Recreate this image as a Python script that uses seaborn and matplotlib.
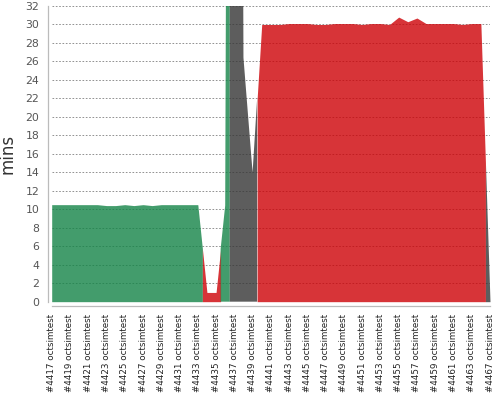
import numpy as np
import matplotlib
matplotlib.use('Agg')
import matplotlib.pyplot as plt
import seaborn as sns

# build trend data (one entry per build)
build_numbers = [4417, 4418, 4419, 4420, 4421, 4422, 4423, 4424, 4425, 4426,
                 4427, 4428, 4429, 4430, 4431, 4432, 4433, 4434, 4435, 4436,
                 4437, 4438, 4439, 4440, 4441, 4442, 4443, 4444, 4445, 4446,
                 4447, 4448, 4449, 4450, 4451, 4452, 4453, 4454, 4455, 4456,
                 4457, 4458, 4459, 4460, 4461, 4462, 4463, 4465, 4467]
durations = [10.5, 10.5, 10.5, 10.5, 10.5, 10.5, 10.4, 10.4, 10.5, 10.4,
             10.5, 10.4, 10.5, 10.5, 10.5, 10.5, 10.5, 1.0, 1.0, 10.4,
             300.0, 26.4, 14.0, 30.0, 30.0, 30.0, 30.1, 30.1, 30.1, 30.0,
             30.0, 30.1, 30.1, 30.1, 30.0, 30.1, 30.1, 30.0, 30.8, 30.3,
             30.7, 30.1, 30.1, 30.1, 30.1, 30.0, 30.1, 30.1, 0.0]
statuses = ['success'] * 17 + ['failed'] * 2 + ['success'] + ['aborted'] * 3 \
    + ['failed'] * 25 + ['aborted']
job_name = 'octsimtest'

status_colors = {'success': '#148447', 'failed': '#cd0106', 'aborted': '#353535'}

sns.set_style('white')
plt.rcParams['font.family'] = ['DejaVu Sans']

fig = plt.figure(figsize=(5, 4), dpi=100)
ax = fig.add_axes([0.1034, 0.2458, 0.8766, 0.7392])

x = np.arange(len(durations))
y = np.array(durations)
n = len(y)

# group consecutive builds with the same status, each half-segment takes the build's colour
runs = []
start = 0
for i in range(1, n + 1):
    if i == n or statuses[i] != statuses[start]:
        runs.append((start, i - 1))
        start = i

for a, b in runs:
    xs, ys = [], []
    if a > 0:
        xs.append((x[a - 1] + x[a]) / 2)
        ys.append((y[a - 1] + y[a]) / 2)
    xs += list(x[a:b + 1])
    ys += list(y[a:b + 1])
    if b < n - 1:
        xs.append((x[b] + x[b + 1]) / 2)
        ys.append((y[b] + y[b + 1]) / 2)
    ax.fill_between(xs, 0, ys, color=status_colors[statuses[a]], alpha=0.8,
                    linewidth=0, zorder=2)

# spines first: moving them resets the tick styling
sns.despine(ax=ax, offset=3)
for side in ['left', 'bottom']:
    ax.spines[side].set_color('#bbbbbb')
    ax.spines[side].set_linewidth(0.9)

ax.set_xlim(0, n - 1)
ax.set_ylim(0, 32)
ax.set_yticks(range(0, 33, 2))
ax.set_xticks(x)
ax.set_xticklabels([f'#{b} {job_name}' if i % 2 == 0 else '' for i, b in enumerate(build_numbers)],
                   rotation=90, fontsize=6.3, color='#222222')
ax.tick_params(axis='y', labelsize=7.8, labelcolor='#555555', length=2, pad=4,
               color='#aaaaaa', width=0.8)
ax.tick_params(axis='x', length=2, pad=4, color='#aaaaaa', width=0.8)

ax.set_axisbelow(True)
ax.yaxis.grid(True, linestyle=(0, (2, 2)), color='#808080', linewidth=0.6)
ax.xaxis.grid(False)

ax.set_ylabel('mins', fontsize=12, color='#333333', labelpad=6)

fig.savefig('out.png', dpi=100)
